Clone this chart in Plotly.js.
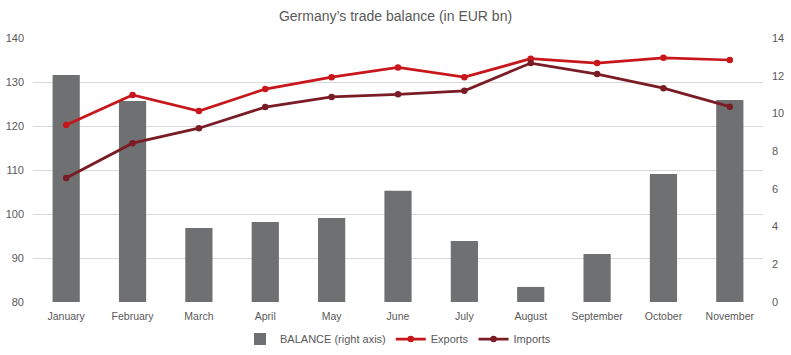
<!DOCTYPE html>
<html>
<head>
<meta charset="utf-8">
<script src="https://cdn.plot.ly/plotly-3.0.1.min.js"></script>
<style>html,body{margin:0;padding:0;background:#fff;}#chart{width:791px;height:355px;}</style>
</head>
<body>
<div id="chart"></div>
<script>
const months = ["January","February","March","April","May","June","July","August","September","October","November"];
const balance = [12.04, 10.66, 3.92, 4.24, 4.45, 5.90, 3.23, 0.80, 2.55, 6.79, 10.71];
const exportsVals = [120.2, 127.05, 123.4, 128.4, 131.1, 133.3, 131.1, 135.3, 134.3, 135.5, 135.0];
const importsVals = [108.2, 116.1, 119.5, 124.3, 126.6, 127.2, 128.0, 134.3, 131.8, 128.6, 124.4];
const leftTicks = [80, 90, 100, 110, 120, 130, 140];
const rightTicks = [0, 2, 4, 6, 8, 10, 12, 14];

const font = "Liberation Sans, Arial, sans-serif";
const txt = "#595959";

const traces = [
  {type:"bar", name:"BALANCE (right axis)", x:months, y:balance, yaxis:"y",
   marker:{color:"#6f7072"}, width:0.41},
  {type:"scatter", mode:"lines+markers", name:"Exports", x:months, y:exportsVals, yaxis:"y2",
   line:{color:"#c8171c", width:2.75}, marker:{color:"#c8171c", size:6.5}},
  {type:"scatter", mode:"lines+markers", name:"Imports", x:months, y:importsVals, yaxis:"y2",
   line:{color:"#7a1c25", width:2.75}, marker:{color:"#7a1c25", size:6.5}}
];

const layout = {
  width:791, height:355,
  margin:{l:33, r:28, t:38, b:53, autoexpand:false},
  paper_bgcolor:"#fff", plot_bgcolor:"#fff",
  font:{family:font, size:11, color:txt},
  title:{text:"Germany’s trade balance (in EUR bn)", font:{family:font, size:14, color:txt}, x:0.5, xanchor:"center", y:0.955, yanchor:"middle"},
  showlegend:true,
  legend:{orientation:"h", x:0.5, xanchor:"center", yref:"container", y:0.045, yanchor:"middle", font:{family:font, size:11, color:txt}, traceorder:"normal"},
  xaxis:{type:"category", range:[-0.5, 10.5], automargin:false, showgrid:false, zeroline:false, showline:false, ticks:"", tickfont:{family:font, size:10.5, color:txt}, ticklabelstandoff:6},
  yaxis:{side:"right", automargin:false, range:[0,14], tickvals:rightTicks, showgrid:false, zeroline:false, showline:false, tickfont:{family:font, size:11, color:txt}, ticklabelstandoff:8},
  yaxis2:{side:"left", automargin:false, overlaying:"y", range:[80,140], tickvals:leftTicks, showgrid:true, gridcolor:"#d9d9d9", gridwidth:1, zeroline:false, showline:false, tickfont:{family:font, size:11, color:txt}, ticklabelstandoff:8}
};

Plotly.newPlot("chart", traces, layout, {staticPlot:true, displayModeBar:false});
</script>
</body>
</html>
